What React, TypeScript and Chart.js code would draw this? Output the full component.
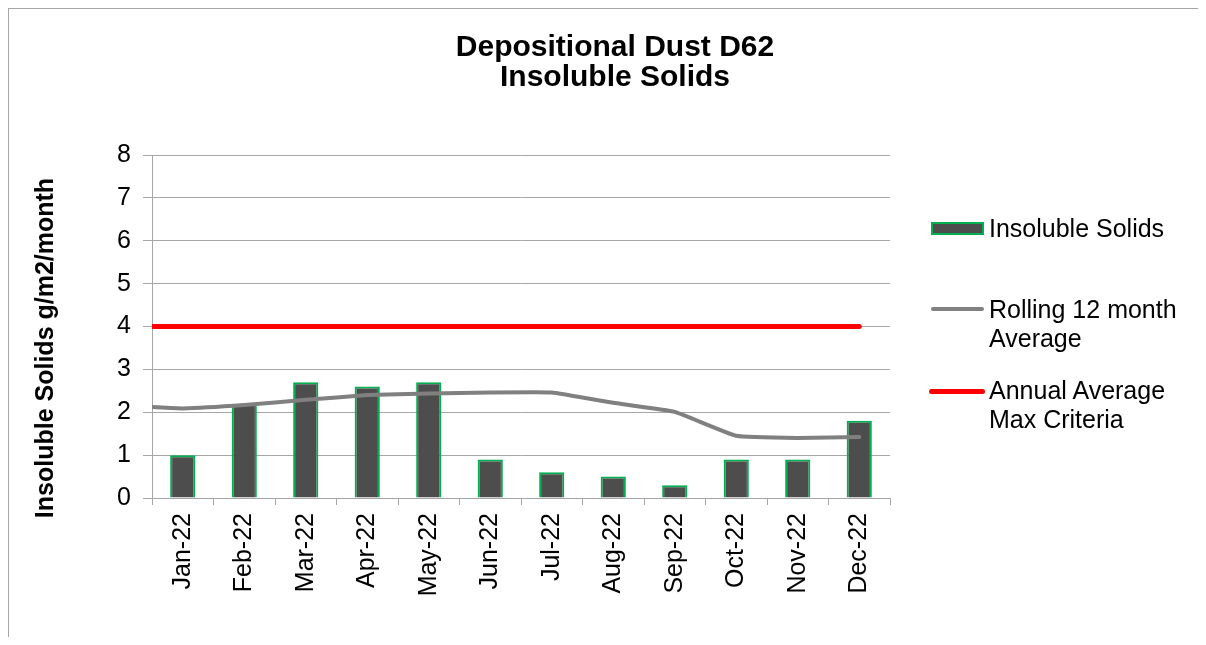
import React, { useEffect, useRef } from 'react';
import { Chart, registerables } from 'chart.js';

Chart.register(...registerables);

const FONT = "'Liberation Sans', Arial, sans-serif";

const titleLines = ['Depositional Dust D62', 'Insoluble Solids'];
const yAxisTitle = 'Insoluble Solids g/m2/month';

const months = ['Jan-22', 'Feb-22', 'Mar-22', 'Apr-22', 'May-22', 'Jun-22', 'Jul-22', 'Aug-22', 'Sep-22', 'Oct-22', 'Nov-22', 'Dec-22'];
const insolubleSolids = [1.0, 2.2, 2.7, 2.6, 2.7, 0.9, 0.6, 0.5, 0.3, 0.9, 0.9, 1.8];
// value of the rolling line where it meets the y axis (start of the line)
const rollingStart = 2.12;
const rolling12MonthAverage = [2.09, 2.17, 2.29, 2.4, 2.44, 2.46, 2.46, 2.22, 2.01, 1.45, 1.4, 1.42];
// value of the criteria line where it meets the y axis (start of the line)
const criteriaStart = 4;
const annualAverageMaxCriteria = [4, 4, 4, 4, 4, 4, 4, 4, 4, 4, 4, 4];
const yMin = 0;
const yMax = 8;
const yStep = 1;

const legendItems = ['Insoluble Solids', 'Rolling 12 month Average', 'Annual Average Max Criteria'];

export default function App() {
  const canvasRef = useRef<HTMLCanvasElement | null>(null);

  useEffect(() => {
    const canvas = canvasRef.current;
    if (!canvas) return;
    const rollingData = [{ x: -0.5, y: rollingStart }, ...rolling12MonthAverage.map((y, i) => ({ x: i, y }))];
    const criteriaData = [{ x: -0.5, y: criteriaStart }, ...annualAverageMaxCriteria.map((y, i) => ({ x: i, y }))];
    const chart = new Chart(canvas, {
      type: 'line',
      data: {
        labels: months,
        datasets: [
          {
            type: 'line',
            label: legendItems[2],
            data: criteriaData as any,
            xAxisID: 'x2',
            borderColor: '#FF0000',
            backgroundColor: '#FF0000',
            borderWidth: 5,
            pointRadius: 0,
            tension: 0,
            borderCapStyle: 'round',
            order: 1,
          },
          {
            type: 'line',
            label: legendItems[1],
            data: rollingData as any,
            xAxisID: 'x2',
            borderColor: '#808080',
            backgroundColor: '#808080',
            borderWidth: 4,
            pointRadius: 0,
            tension: 0.1,
            borderCapStyle: 'round',
            order: 2,
          },
          {
            type: 'bar',
            label: legendItems[0],
            data: insolubleSolids,
            xAxisID: 'x',
            backgroundColor: '#4D4D4D',
            borderColor: '#00B050',
            borderWidth: 2,
            barPercentage: 0.41,
            categoryPercentage: 1,
            grouped: false,
            order: 3,
          } as any,
        ],
      },
      options: {
        responsive: false,
        animation: false,
        events: [],
        layout: { padding: { left: 0, top: 146, right: 316, bottom: 0 } },
        plugins: {
          legend: { display: false },
          title: { display: false },
          tooltip: { enabled: false },
        },
        scales: {
          x: {
            type: 'category',
            offset: true,
            afterFit: (s: any) => {
              s.height = 147;
            },
            grid: {
              offset: true,
              drawOnChartArea: false,
              drawTicks: true,
              tickLength: 7,
              color: '#A6A6A6',
              lineWidth: 1,
            },
            border: { display: true, color: '#A6A6A6', width: 1 },
            ticks: {
              minRotation: 90,
              maxRotation: 90,
              autoSkip: false,
              padding: 8,
              color: '#000000',
              font: { family: FONT, size: 25 },
            },
          },
          x2: {
            type: 'linear',
            display: false,
            offset: false,
            grace: 0,
            min: -0.5,
            max: months.length - 0.5,
          },
          y: {
            min: yMin,
            max: yMax,
            afterFit: (s: any) => {
              s.width = 143;
            },
            grid: {
              color: '#A6A6A6',
              lineWidth: 1,
              drawTicks: true,
              tickLength: 9,
            },
            border: { display: true, color: '#A6A6A6', width: 1 },
            ticks: {
              stepSize: yStep,
              padding: 12,
              color: '#000000',
              font: { family: FONT, size: 25 },
            },
          },
        },
      },
    });
    return () => chart.destroy();
  }, []);

  const text: React.CSSProperties = {
    position: 'absolute',
    fontFamily: FONT,
    fontSize: 25,
    color: '#000',
    whiteSpace: 'nowrap',
  };

  return (
    <div
      style={{
        position: 'relative',
        width: 1198,
        height: 637,
        marginBottom: -8,
        boxSizing: 'border-box',
        borderLeft: '1px solid #A6A6A6',
        borderTop: '1px solid #A6A6A6',
        background: '#fff',
      }}
    >
      <canvas ref={canvasRef} width={1197} height={636} style={{ position: 'absolute', left: 0, top: 0, width: 1197, height: 636 }} />
      <div
        style={{
          ...text,
          left: 306,
          top: 22,
          width: 600,
          textAlign: 'center',
          fontSize: 30,
          fontWeight: 'bold',
          lineHeight: '30px',
        }}
      >
        {titleLines.map((t) => (
          <div key={t}>{t}</div>
        ))}
      </div>
      <div
        style={{
          ...text,
          left: 35 - 250,
          top: 339 - 15,
          width: 500,
          height: 30,
          lineHeight: '30px',
          textAlign: 'center',
          fontWeight: 'bold',
          transform: 'rotate(-90deg)',
          transformOrigin: '50% 50%',
        }}
      >
        {yAxisTitle}
      </div>
      {/* legend */}
      <div
        style={{
          position: 'absolute',
          left: 922,
          top: 213,
          width: 53,
          height: 13,
          boxSizing: 'border-box',
          background: '#4D4D4D',
          border: '2px solid #00B050',
        }}
      />
      <div style={{ ...text, left: 980, top: 205, lineHeight: '28px' }}>{legendItems[0]}</div>
      <div style={{ position: 'absolute', left: 922, top: 298, width: 53, height: 4, borderRadius: 2, background: '#808080' }} />
      <div style={{ ...text, left: 980, top: 286, lineHeight: '28.5px', whiteSpace: 'normal', width: 200 }}>
        Rolling 12 month
        <br />
        Average
      </div>
      <div style={{ position: 'absolute', left: 920, top: 380, width: 56, height: 5, borderRadius: 2.5, background: '#FF0000' }} />
      <div style={{ ...text, left: 980, top: 367, lineHeight: '28.5px', whiteSpace: 'normal', width: 200 }}>
        Annual Average
        <br />
        Max Criteria
      </div>
    </div>
  );
}
